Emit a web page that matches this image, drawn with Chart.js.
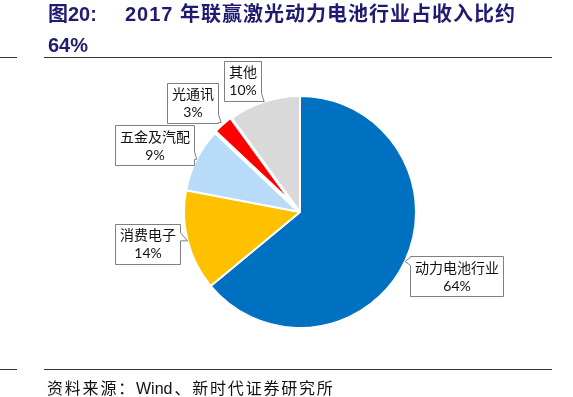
<!DOCTYPE html>
<html>
<head>
<meta charset="utf-8">
<script src="https://cdn.jsdelivr.net/npm/chart.js@4.4.0/dist/chart.umd.min.js"></script>
<style>
  body { margin: 0; background: #fff; }
  #wrap { position: relative; width: 573px; height: 397px; overflow: hidden; }
  #pie { position: absolute; left: 0; top: 0; }
  .t { position: absolute; color: #1f1b70; font-weight: bold; font-size: 20px; line-height: 1; white-space: nowrap;
       font-family: "Liberation Sans", "Noto Sans CJK SC", sans-serif; }
  .rule { position: absolute; height: 1px; background: #333; }
  .src { position: absolute; left: 47px; top: 379px; font-size: 16px; line-height: 1; letter-spacing: 1.8px; color: #111;
         white-space: nowrap; font-family: "Noto Sans CJK SC", sans-serif; }
  .src span { letter-spacing: 0; font-family: "Liberation Sans", sans-serif; margin-right: 2px; }
  .frag { position: absolute; font-size: 14px; line-height: 1; font-family: "Liberation Sans", sans-serif; }
</style>
</head>
<body>
<div id="wrap">
  <canvas id="pie" width="573" height="397"></canvas>
  <div class="t" style="left:48px;top:4px;">图20:</div>
  <div class="t" style="left:125px;top:4px;letter-spacing:1px;">2017 年联赢激光动力电池行业占收入比约</div>
  <div class="t" style="left:48px;top:35px;">64%</div>
  <div class="rule" style="left:0;top:57px;width:17px;"></div>
  <div class="rule" style="left:44px;top:57px;width:508px;"></div>
  <div class="rule" style="left:0;top:369px;width:17px;"></div>
  <div class="rule" style="left:44px;top:369px;width:508px;"></div>
  <div class="frag" style="left:-4px;top:90px;color:#222;">)</div>
  <div class="frag" style="left:-4px;top:320px;color:#e03040;">)</div>
  <div class="src">资料来源：<span>Wind</span>、新时代证券研究所</div>
</div>
<script>
// 数据
const categories = ['动力电池行业', '消费电子', '五金及汽配', '光通讯', '其他'];
const shares = [64, 14, 9, 3, 10];
const shareLabels = ['64%', '14%', '9%', '3%', '10%'];
const sliceColors = ['#0070C0', '#FFC000', '#B7DBF9', '#FF0000', '#D9D9D9'];
// 标注框中心相对扇区外缘点的偏移
const calloutShift = [[52, 15], [-40, 3], [-42, -14], [-29, -20], [-22, -21]];

function boxPath(ctx, l, t, r, b, tx, ty) {
  ctx.beginPath();
  ctx.moveTo(l, t);
  ctx.lineTo(r, t);
  if (tx > r) {
    const y2 = Math.min(Math.max(ty, t + 8), b);
    ctx.lineTo(r, y2 - 8);
    ctx.lineTo(tx, ty);
    ctx.lineTo(r, y2);
  }
  ctx.lineTo(r, b);
  ctx.lineTo(l, b);
  if (tx < l) {
    const y1 = Math.min(Math.max(ty - 4, t), b - 8);
    ctx.lineTo(l, y1 + 8);
    ctx.lineTo(tx, ty);
    ctx.lineTo(l, y1);
  }
  ctx.closePath();
}

// 画标注框
const callouts = {
  id: 'callouts',
  afterDatasetsDraw(chart) {
    const ctx = chart.ctx;
    const arcs = chart.getDatasetMeta(0).data;
    ctx.save();
    ctx.font = '14px Lato, "Noto Sans CJK SC", sans-serif';
    arcs.forEach(function(arc, i) {
      const p = arc.getProps(['x', 'y', 'startAngle', 'endAngle', 'outerRadius'], true);
      const mid = (p.startAngle + p.endAngle) / 2;
      const r = p.outerRadius + (arc.options.offset || 0) * 0.8;
      const tx = p.x + Math.cos(mid) * r;
      const ty = p.y + Math.sin(mid) * r;
      const w = Math.max(ctx.measureText(categories[i]).width, ctx.measureText(shareLabels[i]).width) + 9;
      const h = 40;
      const cx = tx + calloutShift[i][0];
      const cy = ty + calloutShift[i][1];
      const l = Math.round(cx - w / 2) + 0.5, t = Math.round(cy - h / 2) + 0.5;
      const rr = Math.round(cx + w / 2) + 0.5, b = Math.round(cy + h / 2) + 0.5;
      boxPath(ctx, l, t, rr, b, tx, ty);
      ctx.fillStyle = '#fff';
      ctx.fill();
      ctx.strokeStyle = '#808080';
      ctx.lineWidth = 1;
      ctx.stroke();
      ctx.fillStyle = '#111';
      ctx.textAlign = 'center';
      ctx.textBaseline = 'middle';
      ctx.fillText(categories[i], (l + rr) / 2, cy - 8);
      ctx.fillText(shareLabels[i], (l + rr) / 2, cy + 10);
    });
    ctx.restore();
  }
};

new Chart(document.getElementById('pie').getContext('2d'), {
  type: 'pie',
  data: {
    labels: categories,
    datasets: [{
      data: shares,
      backgroundColor: sliceColors,
      borderColor: '#fff',
      borderWidth: [2, 2, 2, 4, 2],
      offset: [0, 0, 0, 4, 0],
      radius: 116
    }]
  },
  options: {
    responsive: false,
    animation: false,
    layout: { padding: { left: 180, right: 153, top: 92, bottom: 65 } },
    plugins: { legend: { display: false }, tooltip: { enabled: false } }
  },
  plugins: [callouts]
});
</script>
</body>
</html>
